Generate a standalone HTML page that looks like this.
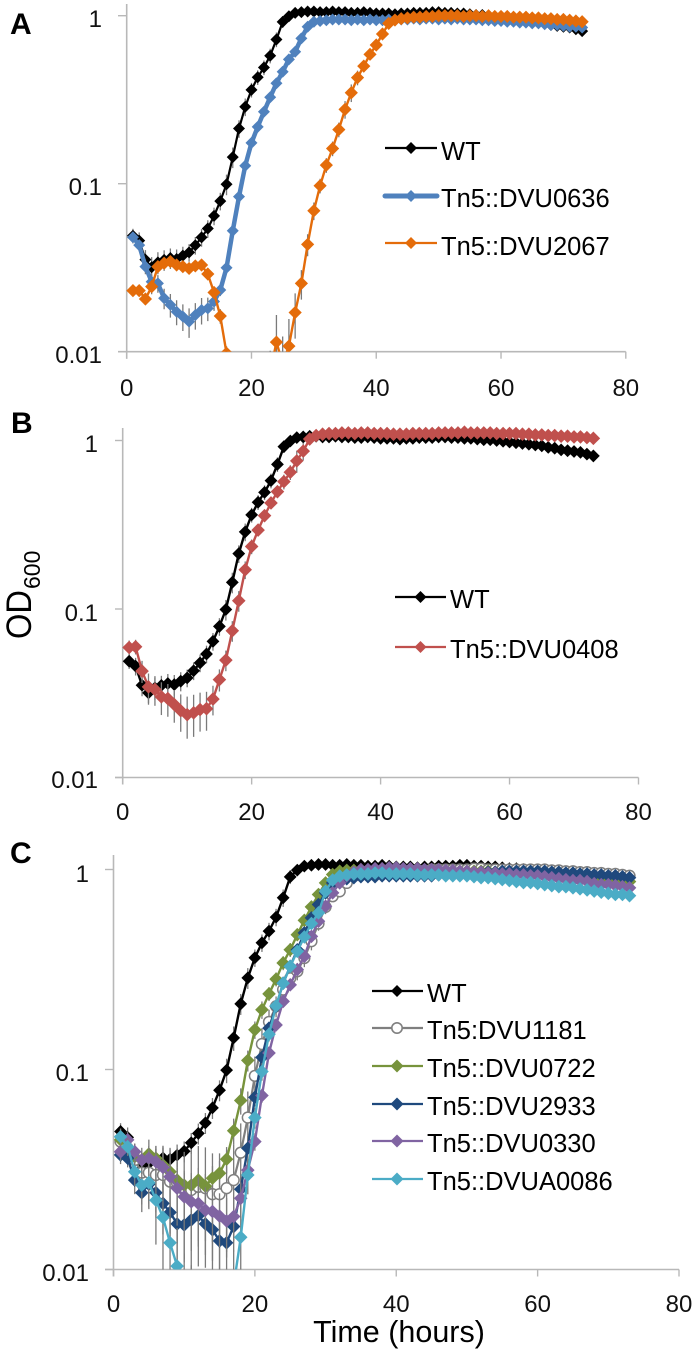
<!DOCTYPE html>
<html lang="en">
<head>
<meta charset="utf-8">
<title>OD600 growth curves</title>
<style>
html,body{margin:0;padding:0;background:#fff;}
svg{display:block;font-family:"Liberation Sans",sans-serif;}
</style>
</head>
<body>
<svg id="chart" xmlns="http://www.w3.org/2000/svg" width="695" height="1353" viewBox="0 0 695 1353">
  <rect width="695" height="1353" fill="#fff"/>
  <g id="panels"></g>

  <text x="10" y="34" font-size="30" font-weight="bold">A</text>
  <text x="11" y="433" font-size="30" font-weight="bold">B</text>
  <text x="10" y="863" font-size="30" font-weight="bold">C</text>

  <text transform="translate(31,639) rotate(-90)" font-size="35" textLength="49" lengthAdjust="spacingAndGlyphs">OD</text>
  <text transform="translate(40,589) rotate(-90)" font-size="23">600</text>
  <text x="399" y="1342" font-size="30.5" text-anchor="middle">Time (hours)</text>

  <g>
    <g>
      <line x1="385" x2="437" y1="148" y2="148" stroke="#000" stroke-width="2.2"/>
      <path d="M411,142L417,148L411,154L405,148Z" fill="#000"/>
      <text x="441" y="160" font-size="25.5">WT</text>
    </g>
    <g>
      <line x1="385" x2="437" y1="196" y2="196" stroke="#4f81bd" stroke-width="5" stroke-linecap="round"/>
      <path d="M411,190L417,196L411,202L405,196Z" fill="#4f81bd"/>
      <text x="441" y="207" font-size="25.5">Tn5::DVU0636</text>
    </g>
    <g>
      <line x1="385" x2="437" y1="243" y2="243" stroke="#e46c0a" stroke-width="2.2"/>
      <path d="M411,237L417,243L411,249L405,243Z" fill="#e46c0a"/>
      <text x="441" y="255" font-size="25.5">Tn5::DVU2067</text>
    </g>
  </g>

  <g>
    <g>
      <line x1="395" x2="446" y1="597" y2="597" stroke="#000" stroke-width="2.2"/>
      <path d="M420.5,591L426.5,597L420.5,603L414.5,597Z" fill="#000"/>
      <text x="450" y="608" font-size="25.5">WT</text>
    </g>
    <g>
      <line x1="395" x2="446" y1="647" y2="647" stroke="#c0504d" stroke-width="2.2"/>
      <path d="M420.5,641L426.5,647L420.5,653L414.5,647Z" fill="#c0504d"/>
      <text x="450" y="658" font-size="25.5">Tn5::DVU0408</text>
    </g>
  </g>

  <g>
    <g>
      <line x1="372" x2="423" y1="991" y2="991" stroke="#000" stroke-width="2.2"/>
      <path d="M397,985L403,991L397,997L391,991Z" fill="#000"/>
      <text x="427" y="1002" font-size="25.5">WT</text>
    </g>
    <g>
      <line x1="372" x2="423" y1="1028" y2="1028" stroke="#7f7f7f" stroke-width="2.2"/>
      <circle cx="397" cy="1028" r="5.2" fill="#fff" stroke="#7f7f7f" stroke-width="1.6"/>
      <text x="427" y="1039" font-size="25.5">Tn5:DVU1181</text>
    </g>
    <g>
      <line x1="372" x2="423" y1="1066" y2="1066" stroke="#77933c" stroke-width="2.2"/>
      <path d="M397,1059.5L403.5,1066L397,1072.5L390.5,1066Z" fill="#77933c"/>
      <text x="427" y="1077" font-size="25.5">Tn5::DVU0722</text>
    </g>
    <g>
      <line x1="372" x2="423" y1="1104" y2="1104" stroke="#1f497d" stroke-width="2.2"/>
      <path d="M397,1097.5L403.5,1104L397,1110.5L390.5,1104Z" fill="#1f497d"/>
      <text x="427" y="1115" font-size="25.5">Tn5::DVU2933</text>
    </g>
    <g>
      <line x1="372" x2="423" y1="1141" y2="1141" stroke="#8064a2" stroke-width="2.2"/>
      <path d="M397,1134.5L403.5,1141L397,1147.5L390.5,1141Z" fill="#8064a2"/>
      <text x="427" y="1152" font-size="25.5">Tn5::DVU0330</text>
    </g>
    <g>
      <line x1="372" x2="423" y1="1179" y2="1179" stroke="#4bacc6" stroke-width="2.2"/>
      <path d="M397,1172.5L403.5,1179L397,1185.5L390.5,1179Z" fill="#4bacc6"/>
      <text x="427" y="1190" font-size="25.5">Tn5::DVUA0086</text>
    </g>
  </g>
</svg>

<script>
const hours = [1,2,3,4,5,6,7,8,9,10,11,12,13,14,15,16,17,18,19,20,21,22,23,24,25,26,27,28,29,30,31,32,33,34,35,36,37,38,39,40,41,42,43,44,45,46,47,48,49,50,51,52,53,54,55,56,57,58,59,60,61,62,63,64,65,66,67,68,69,70,71,72,73];
const xTickValues = [0,20,40,60,80];
const yTickValues = [1,0.1,0.01];
const yTickLabels = ["1","0.1","0.01"];

const wt = [.049,.0458,.0353,.0318,.034,.0352,.0361,.0356,.0373,.039,.043,.0479,.0541,.0643,.0788,.0993,.144,.213,.287,.362,.43,.492,.578,.722,.919,.993,1.04,
1.05,1.06,1.06,1.05,1.05,1.06,1.05,1.05,1.04,1.04,1.05,1.04,1.03,
1.03,1.03,1.02,1.03,1.03,1.04,1.04,1.04,1.05,1.05,1.04,1.04,1.03,1.03,1.02,
1.01,1.01,1,.99,.98,.97,.96,.95,.94,.93,.91,.9,.88,.87,.86,.85,.83,.81];

const dvu0636 = [.048,.0431,.0321,.0261,.0255,.0208,.019,.0173,.0162,.0151,.0165,.0177,.0181,.0199,.0233,.0316,.0525,.0837,.128,.175,.218,.268,.327,.396,.464,.55,.61,.733,.86,.92,
.93,.94,.95,.95,.95,.94,.95,.94,.95,.94,
.94,.95,.94,.95,.95,.96,.95,.96,.96,.95,
.96,.95,.96,.95,.95,.95,.94,.94,.93,.93,
.92,.92,.91,.91,.9,.9,.89,.88,.88,.87,.86,.86,.85];

const dvu2067 = [.0231,.0231,.0206,.0244,.0321,.0336,.0344,.0328,.0321,.0313,.0324,.0328,.029,.0225,.0163,.0098,.007,.006,.005,.005,.005,.006,.0075,.0114,.0085,.0108,
.0171,.0255,.0435,.069,.0973,.129,.162,.21,.277,.348,.428,.501,.589,.669,.778,.9,.942,
.96,.97,.98,.98,.99,.99,1,1,1,1,
.99,1,1,.99,1,.99,.99,.99,.98,.98,
.98,.97,.97,.96,.96,.95,.95,.94,.93,.92];

const dvu0408 = [.0591,.0597,.0428,.0345,.0333,.0301,.0294,.0271,.0249,.0236,.0242,.0253,.0256,.0292,.0381,.0497,.0743,.112,.171,.235,.294,.358,.426,.497,.57,.648,.757,.865,1.02,1.07,
1.09,1.1,1.1,1.11,1.11,1.1,1.11,1.11,1.1,1.1,
1.1,1.09,1.09,1.09,1.1,1.1,1.1,1.1,1.11,1.11,
1.11,1.11,1.12,1.11,1.11,1.11,1.11,1.1,1.1,1.1,
1.1,1.09,1.09,1.08,1.08,1.07,1.07,1.06,1.06,1.05,1.05,1.04,1.03];

const dvu1181 = [.0436,.0404,.0353,.0305,.0305,.0297,.0297,.0275,.027,.025,.025,.0259,.0255,.0238,.0238,.0255,.028,.0384,.0575,.0929,.134,.173,.207,.251,.286,.31,.361,.438,.537,.65,.735,.778,.857,.927,.944,
.96,.97,.97,.98,.98,
.98,.99,.99,.99,1,1,1,1,1,1,
1.01,1.01,1,1,1,1,1,1,1,1,
1,.99,.99,.98,.98,.97,.97,.96,.96,.95,.95,.94,.93];

const dvu0722 = [.0445,.0404,.0367,.0353,.0378,.036,.0333,.0308,.028,.0264,.0264,.028,.0261,.0286,.0303,.0356,.0494,.07,.111,.158,.199,.239,.283,.341,.397,.472,.557,.65,.75,.857,.944,.98,
.99,.99,.99,.99,.98,.98,.98,.98,
.98,.98,.98,.98,.98,.98,.98,.98,.98,.98,
.98,.98,.98,.97,.97,.97,.97,.96,.96,.96,
.95,.95,.94,.93,.93,.92,.91,.91,.9,.89,.89,.88,.87];

const dvu2933 = [.0374,.036,.028,.0242,.0267,.0242,.0214,.0193,.0169,.0167,.0177,.0186,.0169,.0158,.0139,.0136,.0164,.0252,.0404,.0726,.115,.161,.207,.27,.328,.397,.482,.573,.668,.764,.857,.885,
.9,.91,.92,.92,.92,.93,.93,.93,
.93,.93,.93,.93,.93,.94,.94,.95,.95,.96,
.96,.97,.97,.97,.98,.98,.98,.98,.98,.98,
.98,.97,.97,.96,.96,.95,.95,.94,.94,.93,.93,.92,.91];

const dvu0330 = [.0388,.0445,.0388,.0353,.036,.0346,.0324,.0291,.0255,.0231,.0218,.0214,.0198,.0195,.0185,.0175,.0184,.0227,.0314,.0436,.0741,.121,.167,.219,.265,.316,.368,.463,.551,.655,.764,.857,
.93,.97,1,1,1.01,1.01,1.02,1.02,
1.01,1.01,1.01,1,1,1,.99,.99,.98,.98,
.97,.97,.96,.96,.95,.95,.94,.94,.93,.93,
.92,.91,.9,.89,.88,.88,.87,.85,.84,.84,.83,.82,.81];

const dvua0086 = [.0461,.0411,.0308,.0264,.0272,.0222,.0182,.0136,.0104,.008,.007,.006,.006,.006,.005,.005,.0083,.0145,.0297,.0575,.0977,.15,.208,.27,.328,.39,.46,.537,.607,.778,.885,.927,
.94,.95,.95,.95,.96,.96,.95,.95,
.95,.95,.94,.94,.94,.94,.93,.93,.93,.93,
.92,.91,.91,.9,.89,.88,.87,.86,.86,.85,
.84,.83,.82,.82,.81,.8,.79,.78,.77,.76,.75,.75,.74];

const errWt = [.1,.12,.14,.15,.15,.14,.14,.14,.13,.12,.12,.12,.12,.12,.12,.14,.14,.12,.12,.1,.1,.1,.1,.1,.08,.04,.02];
const err0636 = [.06,.08,.1,.1,.12,.14,.16,.17,.18,.2,.18,.18,.16,.12,.08,.06,.05,.05,.05,.05,.06,.06,.06,.06,.06,.05,.05,.05,.04,.02];
const err2067 = [.05,.06,.08,.1,.08,.06,.06,.06,.06,.06,.06,.06,.08,.08,.1,.1,.3,.3,.3,.3,.3,.35,.35,.45,.45,.45,.3,.2,.15,.12,.1,.1,.1,.1,.12,.12,.1,.08,.06,.05,.05,.03,.02];
const err0408 = [.1,.1,.15,.2,.2,.22,.22,.22,.25,.28,.28,.26,.26,.2,.15,.14,.14,.14,.12,.1,.08,.08,.08,.08,.1,.1,.15,.12,.05,.02];
const err1181 = [.15,.15,.2,.25,.3,.35,.4,.45,.5,.55,.6,.6,.6,.6,.6,.55,.5,.4,.35,.25,.2,.15,.12,.1,.1,.1,.1,.1,.08,.08,.06,.05,.04,.03,.02];
const err0722 = [.1,.1,.15,.15,.18,.15,.15,.15,.15,.15,.15,.15,.15,.15,.15,.15,.15,.15,.12,.1,.1,.08,.08,.08,.08,.06,.06,.05,.04,.03];
const err2933 = [.1,.1,.15,.2,.25,.25,.3,.3,.35,.35,.3,.3,.3,.3,.3,.3,.25,.2,.15,.1,.08,.06,.06,.05,.05];
const err0330 = [.1,.1,.1,.1,.15,.2,.25,.3,.35,.35,.35,.35,.3,.3,.3,.3,.25,.2,.12,.1,.08,.06,.06,.05,.05];
const errA0086 = [.1,.1,.15,.2,.25,.4,.5,.55,.55,.5,.5,.5,.5,.5,.5,.5,.5,.4,.2,.12,.1,.08,.06,.05,.05];

const panels = [
  { id:'a', axisX:126.7, endX:625.8, axisY:351.7, oneY:15.7, decade:168, topY:4, tickLeft:118, labelRight:102, xLabelBase:396, ybases:[27,195,363],
    series:[
      {name:'wt', values:wt, errors:errWt, color:'#000', width:2.2, r:6, marker:'diamond'},
      {name:'dvu0636', values:dvu0636, errors:err0636, color:'#4f81bd', width:4.5, r:6, marker:'diamond'},
      {name:'dvu2067', values:dvu2067, errors:err2067, color:'#e46c0a', width:2.4, r:6.6, marker:'diamond'}
    ]},
  { id:'b', axisX:122.7, endX:638.5, axisY:777.5, oneY:440.5, decade:168.5, topY:428, tickLeft:115, labelRight:98, xLabelBase:820, ybases:[452,621,788],
    series:[
      {name:'wt', values:wt, errors:errWt, color:'#000', width:2.4, r:6.4, marker:'diamond'},
      {name:'dvu0408', values:dvu0408, errors:err0408, color:'#c0504d', width:2.4, r:6.8, marker:'diamond'}
    ]},
  { id:'c', axisX:113.5, endX:679, axisY:1269.5, oneY:869.5, decade:200, topY:855, tickLeft:105, labelRight:89, xLabelBase:1312, ybases:[882,1081,1281],
    series:[
      {name:'wt', values:wt, errors:errWt, color:'#000', width:2.4, r:6.4, marker:'diamond'},
      {name:'dvu1181', values:dvu1181, errors:err1181, color:'#7f7f7f', width:2.2, r:5.4, marker:'circle'},
      {name:'dvu0722', values:dvu0722, errors:err0722, color:'#77933c', width:2.4, r:6.8, marker:'diamond'},
      {name:'dvu2933', values:dvu2933, errors:err2933, color:'#1f497d', width:2.4, r:6.8, marker:'diamond'},
      {name:'dvu0330', values:dvu0330, errors:err0330, color:'#8064a2', width:2.4, r:6.8, marker:'diamond'},
      {name:'dvua0086', values:dvua0086, errors:errA0086, color:'#4bacc6', width:2.4, r:6.8, marker:'diamond'}
    ]}
];

const NS = 'http://www.w3.org/2000/svg';
const root = document.getElementById('panels');
const AXIS_COLOR = '#b8b8b8';

function make(tag, attrs, parent) {
  const el = document.createElementNS(NS, tag);
  for (const k in attrs) el.setAttribute(k, attrs[k]);
  parent.appendChild(el);
  return el;
}

function drawPanel(p) {
  const xScale = v => p.axisX + (p.endX - p.axisX) * v / 80;
  const yScale = v => p.oneY - Math.log10(v) * p.decade;

  const g = make('g', {}, root);
  
  

  const clip = make('clipPath', {id:'clip-' + p.id}, g);
  make('rect', {x:p.axisX - 12, y:p.topY - 6, width:p.endX - p.axisX + 30, height:p.axisY - p.topY + 6}, clip);

  const yAxis = make('line', {x1:p.axisX, x2:p.axisX, y1:p.topY, y2:p.axisY + 7, stroke:AXIS_COLOR, 'stroke-width':1.6}, g);
  
  

  const xAxis = make('line', {x1:p.tickLeft, x2:p.endX, y1:p.axisY, y2:p.axisY, stroke:AXIS_COLOR, 'stroke-width':1.6}, g);
  
  

  yTickValues.forEach((v, i) => {
    const y = yScale(v);
    const tick = make('line', {x1:p.tickLeft, x2:p.axisX, y1:y, y2:y, stroke:AXIS_COLOR, 'stroke-width':1.4}, g);
    
    
    const t = make('text', {x:p.labelRight, y:p.ybases[i], 'font-size':24, 'text-anchor':'end', fill:'#111'}, g);
    t.textContent = yTickLabels[i];
    
    
  });

  xTickValues.forEach(v => {
    const x = xScale(v);
    const tick = make('line', {x1:x, x2:x, y1:p.axisY, y2:p.axisY + 7, stroke:AXIS_COLOR, 'stroke-width':1.4}, g);
    
    
    const t = make('text', {x:x, y:p.xLabelBase, 'font-size':24, 'text-anchor':'middle', fill:'#111'}, g);
    t.textContent = String(v);
    
    
  });

  const plot = make('g', {'clip-path':'url(#clip-' + p.id + ')'}, g);
  
  

  p.series.forEach(s => {
    const sg = make('g', {}, plot);
    
    

    s.errors.forEach((e, i) => {
      const v = s.values[i];
      const h = hours[i];
      const bar = make('line', {x1:xScale(h), x2:xScale(h), y1:yScale(v * (1 + e)), y2:yScale(Math.max(v * (1 - e), 0.001)), stroke:'#7a7a7a', 'stroke-width':1.3}, sg);
      
      
    });

    const pts = s.values.map((v, i) => xScale(hours[i]).toFixed(2) + ',' + yScale(v).toFixed(2)).join(' ');
    const line = make('polyline', {points:pts, fill:'none', stroke:s.color, 'stroke-width':s.width, 'stroke-linejoin':'round'}, sg);
    
    

    s.values.forEach((v, i) => {
      const x = xScale(hours[i]);
      const y = yScale(v);
      let m;
      if (s.marker === 'circle') {
        m = make('circle', {cx:x, cy:y, r:s.r, fill:'#fff', stroke:s.color, 'stroke-width':1.5}, sg);
      } else {
        m = make('path', {d:'M' + x + ',' + (y - s.r) + 'L' + (x + s.r) + ',' + y + 'L' + x + ',' + (y + s.r) + 'L' + (x - s.r) + ',' + y + 'Z', fill:s.color}, sg);
      }
      
      
    });
  });
}

panels.forEach(drawPanel);
</script>
</body>
</html>
